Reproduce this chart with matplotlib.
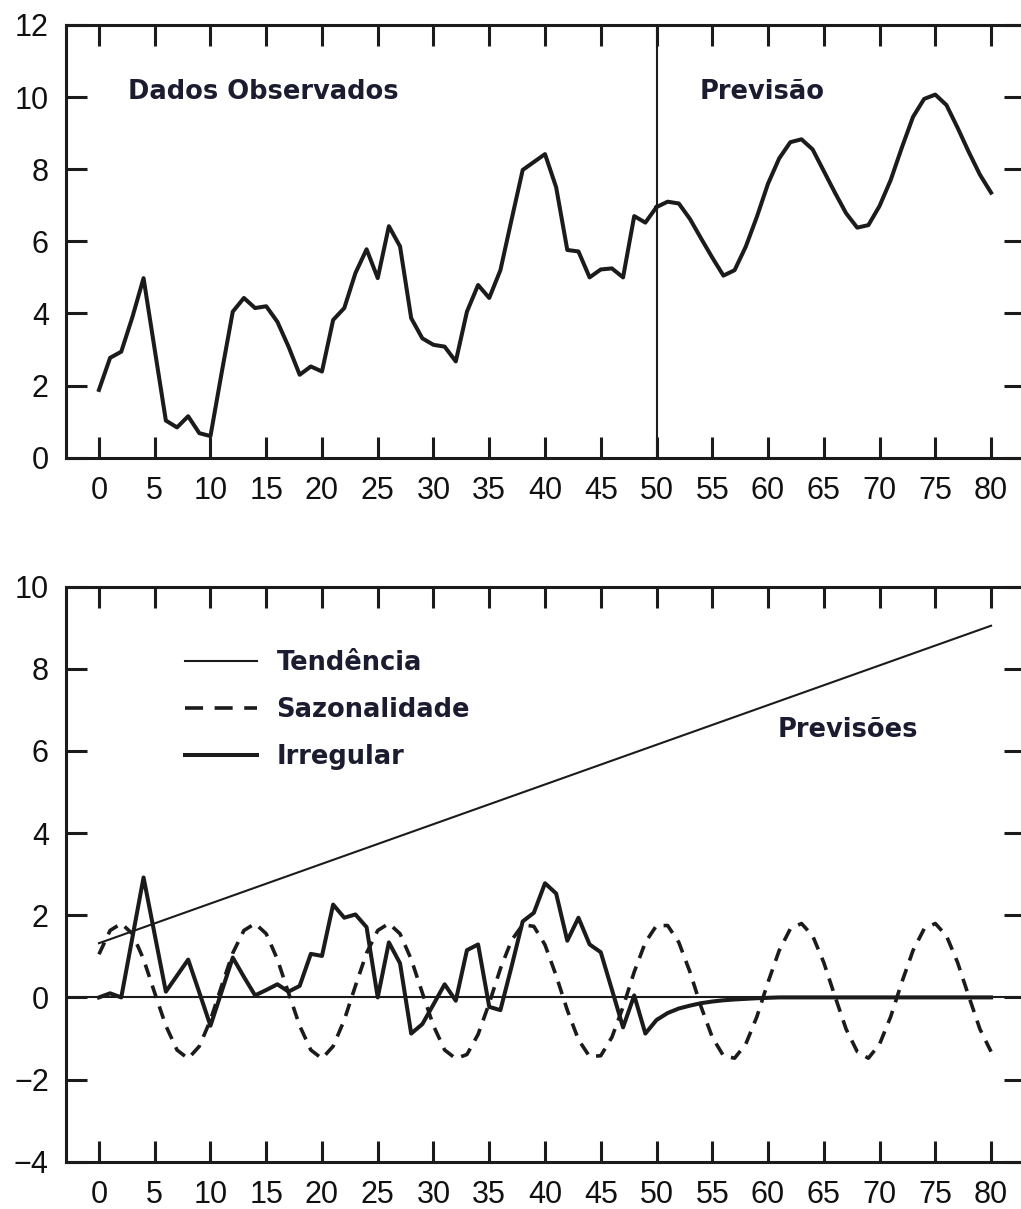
import matplotlib
matplotlib.use("Agg")
import matplotlib.pyplot as plt
from matplotlib import font_manager
from matplotlib.lines import Line2D
import numpy as np

# ---------------- data ----------------
# observed series, periods 0..50
obs_t = list(range(0, 51))
obs_v = [1.88, 2.77, 2.94, 3.90, 4.98, 3.00, 1.03, 0.84, 1.15, 0.68,
         0.60, 2.35, 4.05, 4.43, 4.15, 4.20, 3.77, 3.08, 2.30, 2.53,
         2.39, 3.82, 4.15, 5.12, 5.78, 4.98, 6.42, 5.86, 3.87, 3.31,
         3.13, 3.08, 2.67, 4.05, 4.79, 4.43, 5.20, 6.60, 7.98, 8.20,
         8.42, 7.50, 5.76, 5.72, 5.00, 5.22, 5.25, 5.00, 6.70, 6.52,
         6.95]

# forecast, periods 50..80
fc_t = list(range(50, 81))
fc_v = [6.95, 7.10, 7.05, 6.62, 6.08, 5.55, 5.05, 5.20, 5.85, 6.68,
        7.60, 8.30, 8.75, 8.83, 8.55, 7.95, 7.35, 6.78, 6.38, 6.45,
        6.98, 7.70, 8.60, 9.45, 9.95, 10.07, 9.78, 9.15, 8.48, 7.85,
        7.35]

# trend component (straight line)
trend_t = [0, 80]
trend_v = [1.32, 9.05]

# seasonal component, periods 0..80
seas_t = list(range(0, 81))
seas_v = [1.05, 1.63, 1.80, 1.55, 0.93, 0.11, -0.69, -1.28, -1.49, -1.19,
          -0.55, 0.28, 1.08, 1.63, 1.80, 1.55, 0.93, 0.11, -0.69, -1.28,
          -1.49, -1.19, -0.55, 0.28, 1.08, 1.63, 1.80, 1.55, 0.93, 0.11,
          -0.69, -1.28, -1.49, -1.39, -0.90, -0.14, 0.70, 1.39, 1.77, 1.73,
          1.28, 0.53, -0.31, -1.03, -1.44, -1.42, -0.97, -0.23, 0.62, 1.34,
          1.75, 1.75, 1.34, 0.62, -0.23, -0.97, -1.42, -1.48, -1.14, -0.47,
          0.37, 1.14, 1.67, 1.80, 1.50, 0.85, 0.03, -0.77, -1.32, -1.48,
          -1.14, -0.47, 0.37, 1.14, 1.67, 1.80, 1.50, 0.85, 0.03, -0.77,
          -1.32]

# irregular component, periods 0..80 (decays to zero in the forecast)
irr_t = list(range(0, 81))
irr_v = [0.00, 0.10, 0.00, 1.46, 2.92, 1.53, 0.14, 0.53, 0.92, 0.12,
         -0.69, 0.14, 0.97, 0.50, 0.05, 0.18, 0.32, 0.14, 0.28, 1.06,
         1.01, 2.26, 1.94, 2.02, 1.71, 0.00, 1.34, 0.83, -0.88, -0.65,
         -0.17, 0.32, -0.08, 1.15, 1.29, -0.23, -0.31, 0.75, 1.85, 2.06,
         2.78, 2.53, 1.38, 1.94, 1.29, 1.10, 0.19, -0.73, 0.05, -0.88,
         -0.55, -0.38, -0.27, -0.20, -0.14, -0.10, -0.07, -0.05, -0.035, -0.02,
         -0.01, 0.0, 0.0, 0.0, 0.0, 0.0, 0.0, 0.0, 0.0, 0.0,
         0.0, 0.0, 0.0, 0.0, 0.0, 0.0, 0.0, 0.0, 0.0, 0.0,
         0.0]

x_ticks = list(range(0, 81, 5))
y_ticks_top = list(range(0, 13, 2))
y_ticks_bottom = list(range(-4, 11, 2))

legend_labels = ["Tendência", "Sazonalidade", "Irregular"]

# ---------------- style ----------------
names = {f.name for f in font_manager.fontManager.ttflist}
if "Liberation Sans Narrow" in names:
    tick_family, tick_size = "Liberation Sans Narrow", 26
else:
    tick_family, tick_size = "Liberation Sans", 22

INK = "#1b1b1b"
TXT = "#1c1c30"

W, H = 1021, 1209
fig = plt.figure(figsize=(W / 100, H / 100), dpi=100)
fig.patch.set_facecolor("white")


def rect(l, t, r, b):
    return [l / W, 1 - b / H, (r - l) / W, (b - t) / H]


def style_axes(ax, yticks):
    ax.set_xlim(-3, 83)
    ax.set_xticks(x_ticks)
    ax.set_yticks(yticks)
    ax.tick_params(axis="both", direction="in", length=15, width=2.2,
                   color=INK, labelsize=tick_size, labelcolor="#111111")
    ax.tick_params(axis="x", top=True, bottom=True, pad=13)
    ax.tick_params(axis="y", left=True, right=True, pad=12)
    for lab in ax.get_xticklabels() + ax.get_yticklabels():
        lab.set_fontfamily(tick_family)
    for sp in ax.spines.values():
        sp.set_linewidth(2.2)
        sp.set_color(INK)


# ---------------- top panel ----------------
ax1 = fig.add_axes(rect(65.5, 25, 1024.5, 457.7))
ax1.set_ylim(0, 12)
style_axes(ax1, y_ticks_top)
ax1.plot(obs_t, obs_v, color=INK, lw=2.9, solid_joinstyle="round")
ax1.plot(fc_t, fc_v, color=INK, lw=2.9, solid_joinstyle="round")
ax1.axvline(50, color=INK, lw=1.5)
ax1.text(2.6, 10.15, "Dados Observados", fontsize=18.5, fontweight="bold",
         family="DejaVu Sans", color=TXT, ha="left", va="center")
ax1.text(53.9, 10.15, "Previsão", fontsize=18.5, fontweight="bold",
         family="DejaVu Sans", color=TXT, ha="left", va="center")

# ---------------- bottom panel ----------------
ax2 = fig.add_axes(rect(65.5, 586.7, 1024.5, 1161.7))
ax2.set_ylim(-4, 10)
style_axes(ax2, y_ticks_bottom)
ax2.axhline(0, color=INK, lw=1.5)
h_trend, = ax2.plot(trend_t, trend_v, color=INK, lw=1.5)
h_seas, = ax2.plot(seas_t, seas_v, color=INK, lw=2.6,
                   linestyle=(0, (3.6, 2.5)))
h_irr, = ax2.plot(irr_t, irr_v, color=INK, lw=2.9, solid_joinstyle="round")
ax2.text(60.9, 6.5, "Previsões", fontsize=18.5, fontweight="bold",
         family="DejaVu Sans", color=TXT, ha="left", va="center")

handles = [Line2D([], [], color=INK, lw=1.5),
           Line2D([], [], color=INK, lw=2.6, linestyle=(0, (5.0, 3.2))),
           Line2D([], [], color=INK, lw=2.9)]
leg = ax2.legend(handles, legend_labels, loc="upper left",
                 bbox_to_anchor=(0.125, 0.89), frameon=False,
                 handlelength=2.8, handletextpad=0.75, labelspacing=0.82,
                 borderpad=0, borderaxespad=0,
                 prop={"family": "DejaVu Sans", "weight": "bold", "size": 18.5})
for t in leg.get_texts():
    t.set_color(TXT)

fig.savefig("out.png", dpi=100, facecolor="white")
